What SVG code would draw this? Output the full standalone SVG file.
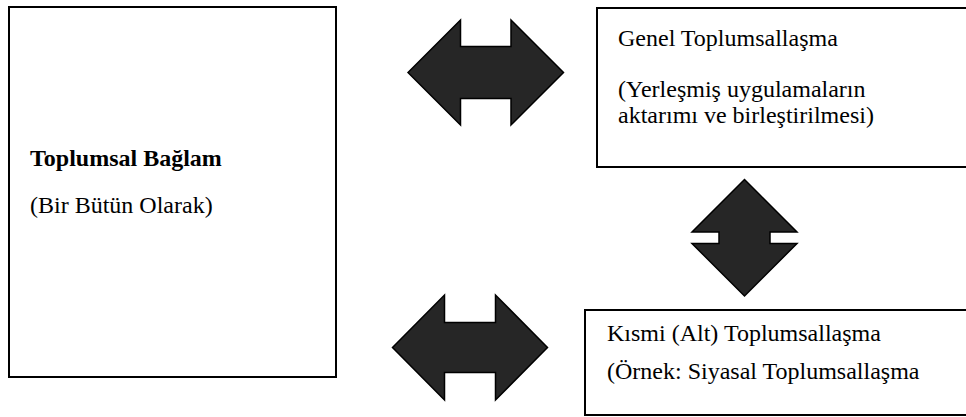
<svg xmlns="http://www.w3.org/2000/svg" width="966" height="417" viewBox="0 0 966 417">
<style>
.box{fill:#fff;stroke:#000;stroke-width:2}
.arrow{fill:#262626;stroke:#000;stroke-width:1.5;stroke-linejoin:miter}
.t{font-family:'Liberation Serif','Times New Roman',Tinos,'DejaVu Serif',serif;font-size:24px;fill:#000}
.b{font-weight:bold}
</style>
<rect x="0" y="0" width="966" height="417" fill="#fff"/>
<g id="toplumsal-baglam">
<rect class="box" x="9" y="7" width="327" height="370"/>
<text class="t b" x="30" y="166" font-family="Liberation Serif, serif">Toplumsal Bağlam</text>
<text class="t" x="30" y="213" font-family="Liberation Serif, serif">(Bir Bütün Olarak)</text>
</g>
<g id="genel-toplumsallasma">
<rect class="box" x="597" y="8" width="380" height="159"/>
<text class="t" x="618" y="46" font-family="Liberation Serif, serif">Genel Toplumsallaşma</text>
<text class="t" x="618" y="97" font-family="Liberation Serif, serif">(Yerleşmiş uygulamaların</text>
<text class="t" x="618" y="123" font-family="Liberation Serif, serif">aktarımı ve birleştirilmesi)</text>
</g>
<g id="kismi-toplumsallasma">
<rect class="box" x="585" y="310" width="392" height="105"/>
<text class="t" x="607" y="341" font-family="Liberation Serif, serif">Kısmi (Alt) Toplumsallaşma</text>
<text class="t" x="607" y="379" font-family="Liberation Serif, serif">(Örnek: Siyasal Toplumsallaşma</text>
</g>
<g id="connectors">
<path class="arrow" d="M408,72.5 L460.5,20 L460.5,46.5 L511,46.5 L511,20 L563.5,72.5 L511,125 L511,98.5 L460.5,98.5 L460.5,125 Z"/>
<path class="arrow" d="M392.5,347.5 L444.5,295 L444.5,322.5 L495.5,322.5 L495.5,295 L547.5,347.5 L495.5,400 L495.5,372.5 L444.5,372.5 L444.5,400 Z"/>
<path class="arrow" d="M744.5,179.5 L797,232 L770,232 L770,243.5 L797,243.5 L744.5,296 L692,243.5 L719,243.5 L719,232 L692,232 Z"/>
</g>
</svg>
